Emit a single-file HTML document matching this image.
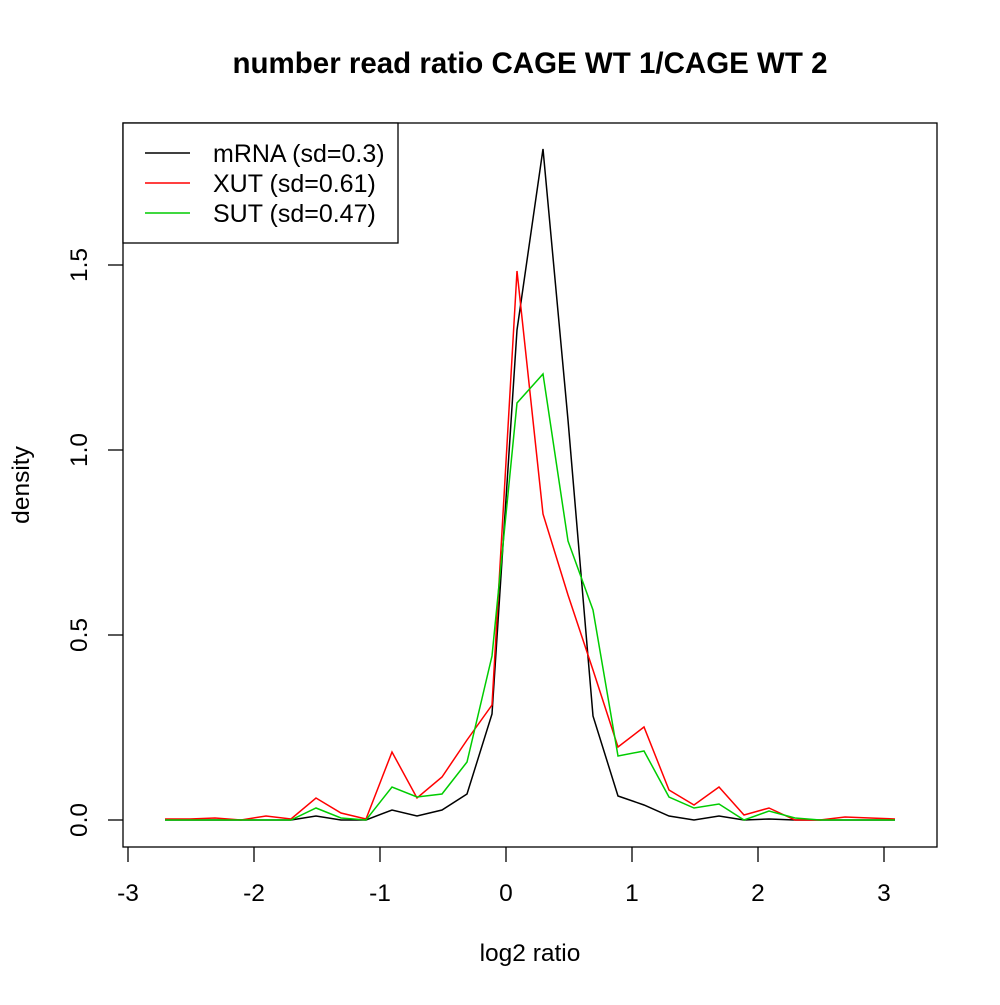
<!DOCTYPE html>
<html><head><style>body{margin:0;background:#fff}</style></head><body>
<svg width="1000" height="1000" xmlns="http://www.w3.org/2000/svg" font-family="Liberation Sans, sans-serif">
<rect x="0" y="0" width="1000" height="1000" fill="#fff"/>
<text x="530" y="73" font-size="29.5" font-weight="bold" text-anchor="middle">number read ratio CAGE WT 1/CAGE WT 2</text>
<rect x="123" y="123" width="814" height="724" fill="none" stroke="#000" stroke-width="1.3"/>
<g stroke="#000" stroke-width="1.3">
<line x1="128" y1="847" x2="128" y2="862"/><line x1="254" y1="847" x2="254" y2="862"/><line x1="380" y1="847" x2="380" y2="862"/><line x1="506" y1="847" x2="506" y2="862"/><line x1="632" y1="847" x2="632" y2="862"/><line x1="758" y1="847" x2="758" y2="862"/><line x1="884" y1="847" x2="884" y2="862"/>
<line x1="108" y1="820" x2="123" y2="820"/><line x1="108" y1="635" x2="123" y2="635"/><line x1="108" y1="450" x2="123" y2="450"/><line x1="108" y1="265" x2="123" y2="265"/>
</g>
<g font-size="24.5" text-anchor="middle">
<text x="128" y="901">-3</text><text x="254" y="901">-2</text><text x="380" y="901">-1</text><text x="506" y="901">0</text><text x="632" y="901">1</text><text x="758" y="901">2</text><text x="884" y="901">3</text>
<text transform="translate(87,820) rotate(-90)">0.0</text>
<text transform="translate(87,635) rotate(-90)">0.5</text>
<text transform="translate(87,450) rotate(-90)">1.0</text>
<text transform="translate(87,265) rotate(-90)">1.5</text>
<text x="530" y="961">log2 ratio</text>
<text transform="translate(29,485) rotate(-90)">density</text>
</g>
<g fill="none" stroke-width="1.5">
<polyline stroke="#000" points="165,820 190,820 215,820 241,820 266,820 291,820 316,816 341,820 366,820 392,810 417,816 442,810 467,794 492,714 517,330 543,149 568,420 593,716 618,796 644,805 669,816 694,820 719,816 744,820 769,819 795,820 820,820 845,820 870,820 895,820"/>
<polyline stroke="#f00" points="165,819 190,819 215,818 241,820 266,816 291,819 316,798 341,813 366,819 392,752 417,798 442,777 467,740 492,705 517,271 543,514 568,595 593,670 618,747 644,727 669,790 694,805 719,787 744,815 769,808 795,820 820,820 845,817 870,818 895,819"/>
<polyline stroke="#0c0" points="165,820 190,820 215,820 241,820 266,820 291,820 316,808 341,818 366,820 392,787 417,797 442,794 467,762 492,656 517,403 543,374 568,541 593,610 618,756 644,751 669,797 694,808 719,804 744,820 769,811 795,818 820,820 845,820 870,820 895,820"/>
</g>
<rect x="123" y="123" width="275" height="120" fill="#fff" stroke="#000" stroke-width="1.3"/>
<line x1="145" y1="153" x2="190" y2="153" stroke="#000" stroke-width="1.5"/>
<line x1="145" y1="183" x2="190" y2="183" stroke="#f00" stroke-width="1.5"/>
<line x1="145" y1="213" x2="190" y2="213" stroke="#0c0" stroke-width="1.5"/>
<g font-size="25">
<text x="213" y="162">mRNA (sd=0.3)</text>
<text x="213" y="192">XUT (sd=0.61)</text>
<text x="213" y="222">SUT (sd=0.47)</text>
</g>
</svg>
</body></html>
